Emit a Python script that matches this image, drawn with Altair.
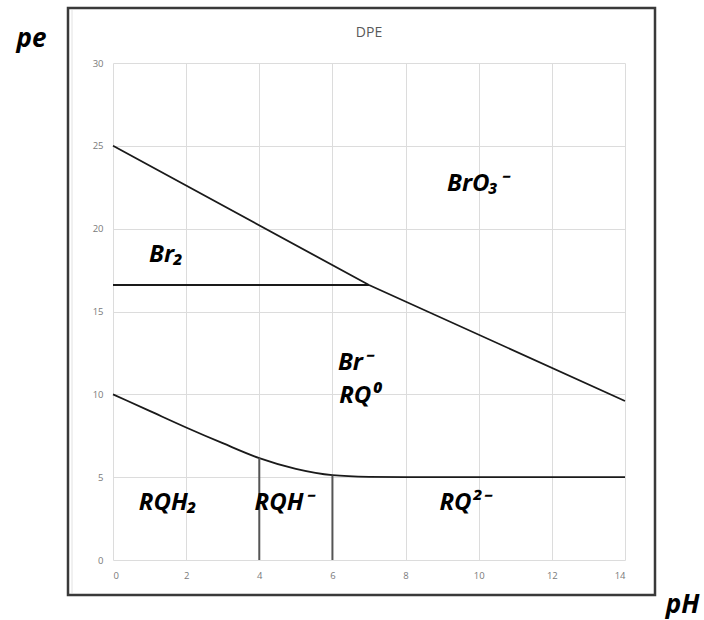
import altair as alt
import pandas as pd

# ---- data ----
upper_ph = [0, 7, 14]
upper_pe = [25, 16.6, 9.6]

br2_ph = [0, 7]
br2_pe = [16.6, 16.6]

lower_ph = [0, 1, 2, 3, 4, 5, 6, 7, 8, 10, 12, 14]
lower_pe = [10, 9.0, 8.0, 7.05, 6.15, 5.5, 5.12, 5.02, 5.0, 5.0, 5.0, 5.0]

vert_ph = [4, 6]
vert_top = [6.15, 5.1]

label_text = ["BrO₃⁻", "Br₂", "Br⁻", "RQ⁰", "RQH₂", "RQH⁻", "RQ²⁻"]
label_ph = [9.95, 1.45, 6.6, 6.75, 1.5, 4.65, 9.6]
label_pe = [22.7, 18.4, 11.9, 9.9, 3.45, 3.45, 3.45]

x_ticks = [0, 2, 4, 6, 8, 10, 12, 14]
y_ticks = [0, 5, 10, 15, 20, 25, 30]

# ---- tables ----
lines = pd.concat([
    pd.DataFrame({"pH": upper_ph, "pe": upper_pe, "s": "upper"}),
    pd.DataFrame({"pH": br2_ph, "pe": br2_pe, "s": "br2"}),
], ignore_index=True)
lower = pd.DataFrame({"pH": lower_ph, "pe": lower_pe})
verts = pd.DataFrame({"pH": vert_ph, "top": vert_top, "bottom": [0, 0]})
labels = pd.DataFrame({"pH": label_ph, "pe": label_pe, "t": label_text})

W, H = 512, 497

xscale = alt.Scale(domain=[0, 14], nice=False, zero=False)
yscale = alt.Scale(domain=[0, 30], nice=False, zero=False)

xaxis = alt.Axis(values=x_ticks, title="pH", grid=True, domain=False, ticks=False,
                 labelPadding=10, titleX=569, titleY=44, titleBaseline="middle",
                 titleAlign="center", titleFontSize=26,
                 titleFontStyle="italic", titleFontWeight="bold", titleColor="#000",
                 titleFont="Open Sans")
yaxis = alt.Axis(values=y_ticks, title="pe", grid=True, domain=False, ticks=False,
                 labelPadding=10, titleAngle=0, titleX=-82, titleY=-25,
                 titleBaseline="middle", titleAlign="center",
                 titleFontSize=26, titleFontStyle="italic", titleFontWeight="bold",
                 titleColor="#000", titleFont="Open Sans")

one = pd.DataFrame({"a": [0]})

frame = alt.Chart(one).mark_rect(
    fill=None, stroke="#3a3a3a", strokeWidth=2.5
).encode(x=alt.value(-45), x2=alt.value(542), y=alt.value(-55), y2=alt.value(532))

side = alt.Chart(one).mark_rule(color="#e2e2e2", strokeWidth=1).encode(
    x=alt.value(-41), y=alt.value(-53), y2=alt.value(530))

title = alt.Chart(one).mark_text(
    text="DPE", font="Open Sans", fontSize=14, color="#595959",
    align="center", baseline="middle"
).encode(x=alt.value(256), y=alt.value(-30))

base_lines = alt.Chart(lines).mark_line(color="#1a1a1a", strokeWidth=1.8).encode(
    x=alt.X("pH:Q", scale=xscale, axis=xaxis),
    y=alt.Y("pe:Q", scale=yscale, axis=yaxis),
    detail="s:N",
)

lower_line = alt.Chart(lower).mark_line(color="#1a1a1a", strokeWidth=1.8,
                                        interpolate="monotone").encode(
    x=alt.X("pH:Q", scale=xscale),
    y=alt.Y("pe:Q", scale=yscale),
)

vlines = alt.Chart(verts).mark_rule(color="#555555", strokeWidth=2).encode(
    x=alt.X("pH:Q", scale=xscale),
    y=alt.Y("bottom:Q", scale=yscale),
    y2="top:Q",
)

texts = alt.Chart(labels).mark_text(
    font="Open Sans", fontSize=24, fontStyle="italic", fontWeight="bold",
    color="#000", align="center", baseline="middle"
).encode(
    x=alt.X("pH:Q", scale=xscale),
    y=alt.Y("pe:Q", scale=yscale),
    text="t:N",
)

chart = alt.layer(frame, side, title, base_lines, lower_line, vlines, texts).properties(
    width=W, height=H,
    autosize=alt.AutoSizeParams(type="none"),
    padding={"left": 113, "top": 63, "right": 79, "bottom": 60},
).configure_view(stroke=None).configure_axis(
    gridColor="#dcdcdc", gridWidth=1, labelColor="#7a7a7a", labelFontSize=9.5,
    labelFont="Open Sans"
)

chart.save("out.html", embed_options={"renderer": "svg", "actions": False})
